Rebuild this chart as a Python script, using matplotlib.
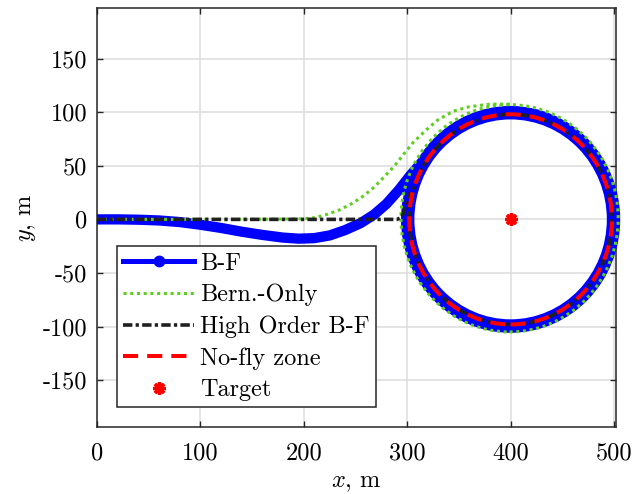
import matplotlib
matplotlib.use("Agg")
import matplotlib.pyplot as plt
from matplotlib.lines import Line2D
from matplotlib.patches import Circle, Ellipse

plt.rcParams["font.family"] = "serif"
plt.rcParams["font.serif"] = ["cmr10"]
plt.rcParams["mathtext.fontset"] = "cm"
plt.rcParams["axes.unicode_minus"] = False
plt.rcParams["font.size"] = 17.5

# B-F trajectory: approach leg, then loops around the target
bf_x = [0, 20, 40, 60, 80, 100, 120, 140, 160, 180, 195, 210, 225, 240,
        255, 268, 280, 292, 303, 313, 322]
bf_y = [0, 0, -0.3, -1, -2.5, -5, -8, -11.5, -14.5, -17, -18, -17.5,
        -15, -10, -3.5, 4.5, 14.5, 27.5, 41, 52, 61.5]
bf_loop_r = [98, 101]

# Bernstein-only trajectory
bern_x = [0, 50, 100, 150, 200, 210, 222, 235, 247, 258, 268, 277, 287,
          296, 306, 319, 330, 345, 360, 380, 400]
bern_y = [0, 0, 0, 0, 0.5, 1.5, 4.5, 9, 15, 22, 30, 39, 49, 60, 72, 84,
          93, 101, 105, 107.5, 107.5]
bern_loop_center = (399, 1)
bern_loop_w, bern_loop_h = 210, 212

# High order B-F trajectory
ho_x = [0, 100, 200, 290, 294, 296.5, 298, 300.5, 303.5]
ho_y = [0, 0, 0, 0, 1.5, 6, 12, 19, 25.5]
ho_loop_r = [98]

# target and no-fly zone
target_x, target_y = [400], [0]
nofly_r = 98

blue = (0, 0, 1)
green = "#5ecf1f"
dark = "#202020"
red = (1, 0, 0)

fig = plt.figure(figsize=(6.32, 4.94), dpi=100)
ax = fig.add_axes([96.9 / 632, (494 - 427.4) / 494,
                   (615.8 - 96.9) / 632, (427.4 - 7.6) / 494])

lw_bf = 7.4
ax.plot(bf_x, bf_y, color=blue, lw=lw_bf, solid_capstyle="round",
        solid_joinstyle="round", zorder=3)
for r in bf_loop_r:
    ax.add_patch(Circle((target_x[0], target_y[0]), r, fill=False,
                        ec=blue, lw=lw_bf, zorder=3, clip_on=False))

green_ls = (0, (1, 1.2))
ax.plot(bern_x, bern_y, color=green, lw=2.2, ls=green_ls, zorder=4)
ax.add_patch(Ellipse(bern_loop_center, bern_loop_w, bern_loop_h, fill=False,
                     ec=green, lw=2.2, ls=green_ls, zorder=4, clip_on=False))

dash_dot = (0, (2.6, 0.9, 0.9, 0.9))
ax.plot(ho_x, ho_y, color=dark, lw=2.6, ls=dash_dot, zorder=5)
for r in ho_loop_r:
    ax.add_patch(Circle((target_x[0], target_y[0]), r, fill=False,
                        ec=dark, lw=2.6, ls=dash_dot, zorder=5))

red_ls = (0, (3.75, 2.25))
ax.add_patch(Circle((target_x[0], target_y[0]), nofly_r, fill=False,
                    ec=red, lw=2.9, ls=red_ls, zorder=6))
ax.plot(target_x, target_y, ls="none", marker=(8, 2, 0), ms=9, mew=2.4,
        color=red, zorder=7)

ax.set_xlim(0, 501.7)
ax.set_ylim(-194, 197.5)
ax.set_xticks([0, 100, 200, 300, 400, 500])
ax.set_yticks([-150, -100, -50, 0, 50, 100, 150])
ax.grid(True, color="#dcdcdc", lw=1.1)
ax.set_axisbelow(True)
ax.tick_params(direction="in", length=4.3, width=1.0, color="#262626",
               top=True, right=True, labelsize=17.5)
ax.tick_params(axis="x", pad=11)
ax.tick_params(axis="y", pad=7)
for s in ax.spines.values():
    s.set_color("#262626")
    s.set_linewidth(1.1)

ax.set_xlabel("$x$, m", labelpad=5)
ax.set_ylabel("$y$, m", labelpad=3)

handles = [
    Line2D([], [], color=blue, lw=3.6, marker="o", ms=7.5),
    Line2D([], [], color=green, lw=2.2, ls=green_ls),
    Line2D([], [], color=dark, lw=2.6, ls=dash_dot),
    Line2D([], [], color=red, lw=2.9, ls=red_ls),
    Line2D([], [], ls="none", color=red, marker=(8, 2, 0), ms=9, mew=2.4),
]
labels = ["B-F", "Bern.-Only", "High Order B-F", "No-fly zone", "Target"]
leg = ax.legend(handles, labels, loc="lower left",
                bbox_to_anchor=(0.038, 0.048), borderaxespad=0,
                fancybox=False, framealpha=1, edgecolor="#262626",
                handlelength=2.95, handletextpad=0.25, labelspacing=0.38,
                borderpad=0.25, fontsize=17.5)
leg.get_frame().set_linewidth(1.1)

fig.savefig("out.png", dpi=100)
